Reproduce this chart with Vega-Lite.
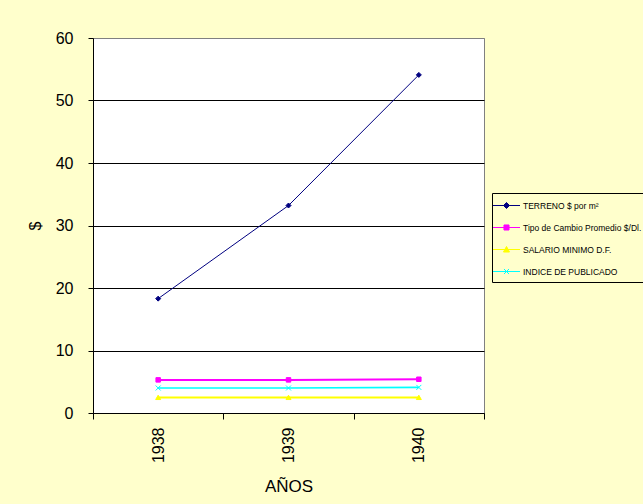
{
  "$schema": "https://vega.github.io/schema/vega-lite/v6.json",
  "autosize": "none",
  "padding": {"left": 93, "top": 38, "right": 159, "bottom": 91},
  "width": 391,
  "height": 375,
  "background": "#FFFFCC",
  "config": {
    "font": "Liberation Sans",
    "view": {"fill": "white", "stroke": "#808080", "strokeWidth": 1},
    "axis": {"labelFont": "Liberation Sans", "titleFont": "Liberation Sans", "labelColor": "black", "titleColor": "black", "titleFontWeight": "normal"},
    "legend": {
      "orient": "none", "legendX": 399, "legendY": 155,
      "symbolSize": 196, "symbolStrokeWidth": 1, "symbolOffset": 2,
      "labelFont": "Liberation Sans", "labelFontSize": 8.5, "labelColor": "black", "labelOffset": 9, "labelLimit": 300,
      "rowPadding": 9, "padding": 5,
      "strokeColor": "black", "fillColor": "#FFFFCC"
    }
  },
  "data": {
    "values": [
      {"serie": "TERRENO $ por m²", "anio": "1938", "valor": 18.3},
      {"serie": "TERRENO $ por m²", "anio": "1939", "valor": 33.2},
      {"serie": "TERRENO $ por m²", "anio": "1940", "valor": 54.1},
      {"serie": "Tipo de Cambio Promedio $/Dl.", "anio": "1938", "valor": 5.3},
      {"serie": "Tipo de Cambio Promedio $/Dl.", "anio": "1939", "valor": 5.3},
      {"serie": "Tipo de Cambio Promedio $/Dl.", "anio": "1940", "valor": 5.4},
      {"serie": "SALARIO MINIMO D.F.", "anio": "1938", "valor": 2.5},
      {"serie": "SALARIO MINIMO D.F.", "anio": "1939", "valor": 2.5},
      {"serie": "SALARIO MINIMO D.F.", "anio": "1940", "valor": 2.5},
      {"serie": "INDICE DE PUBLICADO", "anio": "1938", "valor": 4.0},
      {"serie": "INDICE DE PUBLICADO", "anio": "1939", "valor": 4.0},
      {"serie": "INDICE DE PUBLICADO", "anio": "1940", "valor": 4.1}
    ]
  },
  "encoding": {
    "x": {
      "field": "anio", "type": "ordinal", "bandPosition": 0.5,
      "scale": {"type": "band", "paddingInner": 0, "paddingOuter": 0},
      "axis": {
        "title": "AÑOS", "titleFontSize": 17, "titlePadding": 16,
        "labelAngle": -90, "labelFontSize": 16, "labelPadding": 8, "labelBaseline": "middle", "labelAlign": "right",
        "tickBand": "extent", "tickSize": 6, "tickColor": "black", "domainColor": "black"
      }
    },
    "y": {
      "field": "valor", "type": "quantitative",
      "scale": {"domain": [0, 60], "nice": false},
      "axis": {
        "title": "$", "titleFontSize": 16, "titlePadding": 12,
        "values": [0, 10, 20, 30, 40, 50, 60],
        "labelFontSize": 16, "labelPadding": 15,
        "tickSize": 5, "tickColor": "black", "domainColor": "black",
        "grid": true,
        "gridColor": {"condition": {"test": "datum.value == 60", "value": "#808080"}, "value": "black"},
        "gridOpacity": 1
      }
    }
  },
  "layer": [
    {
      "transform": [{"filter": "datum.serie == 'TERRENO $ por m²'"}],
      "mark": {"type": "line", "stroke": "#000080", "strokeWidth": 1}
    },
    {
      "transform": [{"filter": "datum.serie == 'Tipo de Cambio Promedio $/Dl.'"}],
      "mark": {"type": "line", "stroke": "#FF00FF", "strokeWidth": 2}
    },
    {
      "transform": [{"filter": "datum.serie == 'SALARIO MINIMO D.F.'"}],
      "mark": {"type": "line", "stroke": "#FFFF00", "strokeWidth": 2}
    },
    {
      "transform": [{"filter": "datum.serie == 'INDICE DE PUBLICADO'"}],
      "mark": {"type": "line", "stroke": "#00FFFF", "strokeWidth": 1.7}
    },
    {
      "transform": [{"filter": "datum.serie == 'TERRENO $ por m²'"}],
      "mark": {"type": "point", "filled": true, "shape": "diamond", "fill": "#000080", "stroke": "#000080", "strokeWidth": 1, "size": 25, "opacity": 1}
    },
    {
      "transform": [{"filter": "datum.serie == 'Tipo de Cambio Promedio $/Dl.'"}],
      "mark": {"type": "point", "filled": true, "shape": "square", "fill": "#FF00FF", "stroke": "#FF00FF", "strokeWidth": 1, "size": 20, "opacity": 1}
    },
    {
      "transform": [{"filter": "datum.serie == 'SALARIO MINIMO D.F.'"}],
      "mark": {"type": "point", "filled": true, "shape": "triangle-up", "fill": "#FFFF00", "stroke": "#FFFF00", "strokeWidth": 1, "size": 25, "opacity": 1}
    },
    {
      "transform": [{"filter": "datum.serie == 'INDICE DE PUBLICADO'"}],
      "mark": {"type": "point", "filled": false, "shape": "M-1,-1L1,1M-1,1L1,-1", "stroke": "#00FFFF", "strokeWidth": 1, "size": 25, "opacity": 1}
    },
    {
      "transform": [{"filter": "false"}],
      "mark": {"type": "point", "filled": true, "opacity": 1, "strokeWidth": 1},
      "encoding": {
        "color": {
          "field": "serie", "type": "nominal", "title": null,
          "scale": {
            "domain": ["TERRENO $ por m²", "Tipo de Cambio Promedio $/Dl.", "SALARIO MINIMO D.F.", "INDICE DE PUBLICADO"],
            "range": ["#000080", "#FF00FF", "#FFFF00", "#00FFFF"]
          }
        },
        "stroke": {
          "field": "serie", "type": "nominal", "title": null,
          "scale": {
            "domain": ["TERRENO $ por m²", "Tipo de Cambio Promedio $/Dl.", "SALARIO MINIMO D.F.", "INDICE DE PUBLICADO"],
            "range": ["#000080", "#FF00FF", "#FFFF00", "#00FFFF"]
          }
        },
        "shape": {
          "field": "serie", "type": "nominal", "title": null,
          "scale": {
            "domain": ["TERRENO $ por m²", "Tipo de Cambio Promedio $/Dl.", "SALARIO MINIMO D.F.", "INDICE DE PUBLICADO"],
            "range": [
              "M-1.93,0H1.93M0,-0.43L0.43,0L0,0.43L-0.43,0Z",
              "M-1.93,0H1.93M-0.36,-0.36H0.36V0.36H-0.36Z",
              "M-1.93,0H1.93M0,-0.43L0.43,0.36H-0.43Z",
              "M-1.93,0H1.93M-0.36,-0.36L0.36,0.36M-0.36,0.36L0.36,-0.36"
            ]
          }
        }
      }
    }
  ]
}
